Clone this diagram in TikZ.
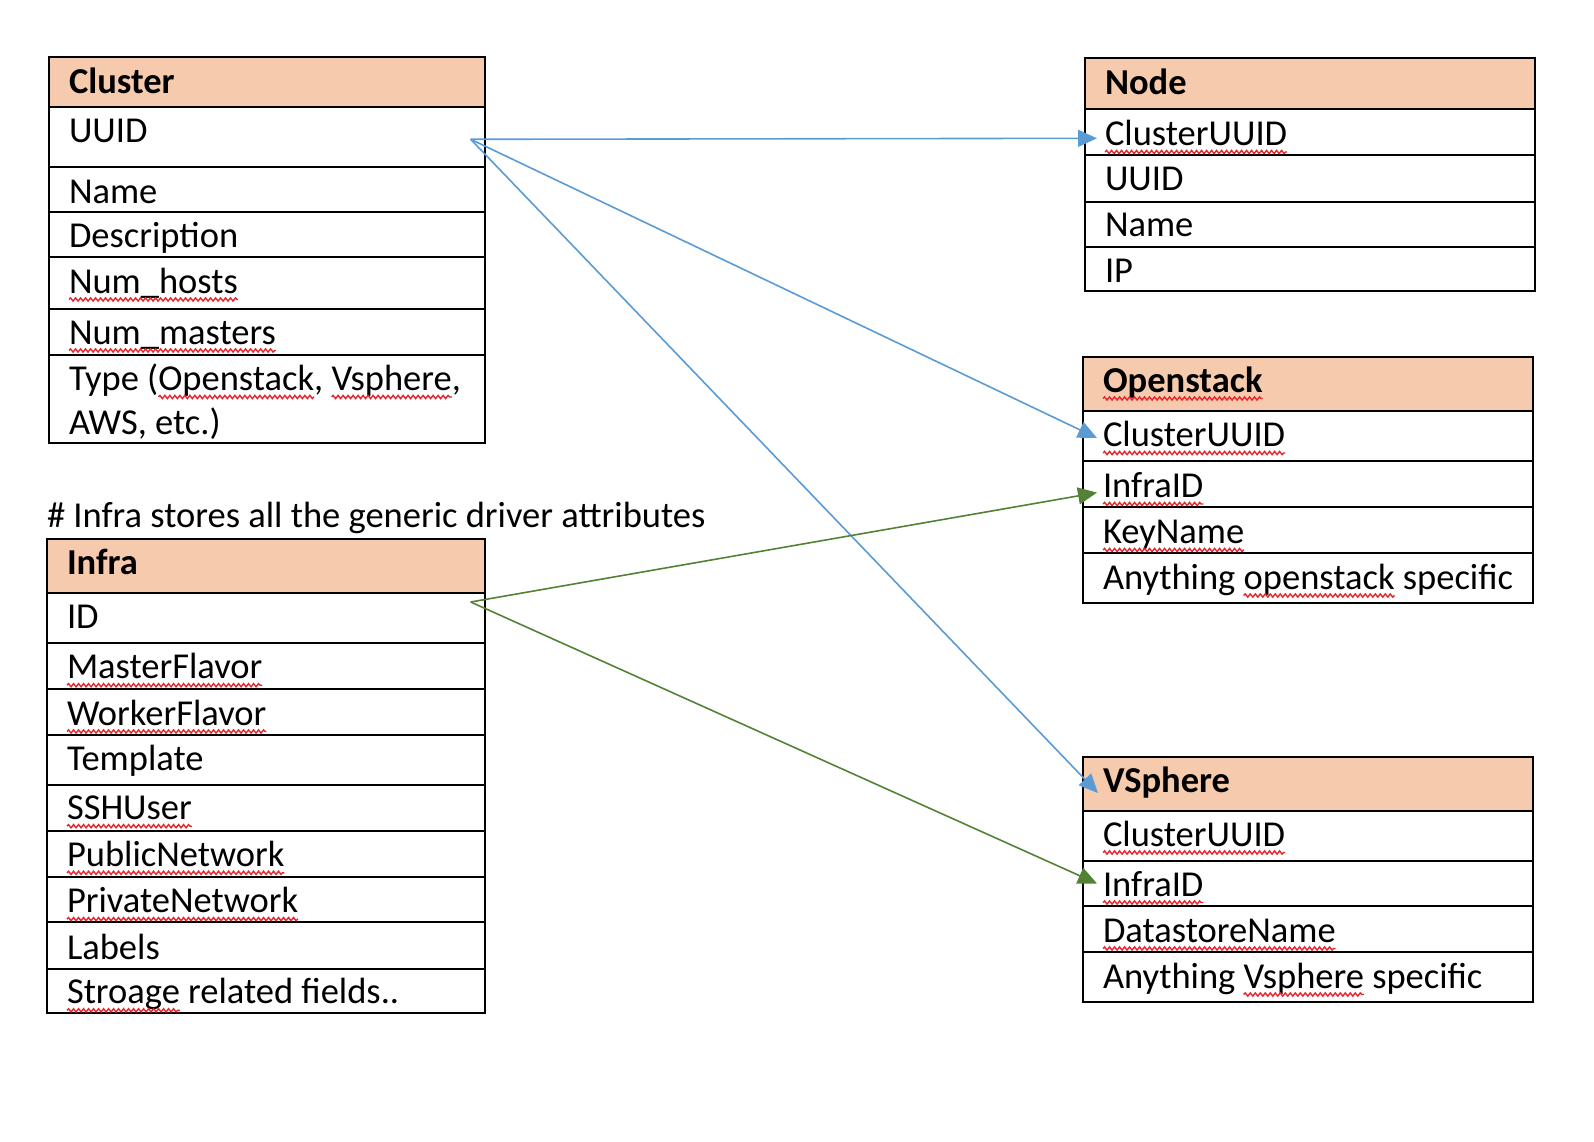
\documentclass[tikz,border=0pt]{standalone}
\usepackage{fontspec}
\setmainfont{Carlito}
\usetikzlibrary{arrows.meta,decorations.pathmorphing}
\definecolor{hdrfill}{HTML}{F6CAAC}
\definecolor{linkblue}{HTML}{5B9BD5}
\definecolor{linkgreen}{HTML}{548235}
\definecolor{spellred}{HTML}{E8242C}
\tikzset{
  tbl/.style={draw=black, line width=2pt},
  hdr/.style={fill=hdrfill},
  w/.style={anchor=base west, inner sep=0pt, outer sep=0pt, font=\fontsize{36.5}{44}\selectfont},
  wb/.style={w, font=\fontsize{36.5}{44}\selectfont\bfseries},
  squig/.style={draw=spellred, line width=1.4pt, decorate, decoration={snake, amplitude=1.6pt, segment length=5pt}},
  bluelink/.style={draw=linkblue, line width=1.6pt, -{Triangle[length=19pt,width=17pt]}},
  greenlink/.style={draw=linkgreen, line width=1.6pt, -{Triangle[length=19pt,width=17pt]}}
}
\newcommand\sqg[1]{\draw[squig] ([yshift=-6.5pt]#1.base west) -- ([yshift=-6.5pt]#1.base east);}
\newcommand\wsp{\ \null}
\begin{document}
\begin{tikzpicture}[x=1pt,y=-1pt]
\useasboundingbox (0,0) rectangle (1594,1142);

% ---------------- Cluster ----------------
\fill[hdr] (49,57) rectangle (485,107);
\draw[tbl] (49,57) rectangle (485,443);
\foreach \yy in {107,167,211.5,257,309,355} \draw[tbl] (49,\yy) -- (485,\yy);
\node[wb] (clT) at (69,93.5) {Cluster};
\node[w] (cl1) at (69,143) {UUID};
\node[w] (cl2) at (69,203.5) {Name};
\node[w] (cl3) at (69,247.5) {Description};
\node[w] (cl4) at (69,293) {Num\_hosts};
\node[w] (cl5) at (69,344) {Num\_masters};
\node[w] (cl6a) at (69,390.5) {Type (};
\node[w] (cl6b) at (cl6a.base east) {Openstack};
\node[w] (cl6c) at (cl6b.base east) {,\wsp};
\node[w] (cl6d) at (cl6c.base east) {Vsphere};
\node[w] (cl6e) at (cl6d.base east) {,};
\node[w] (cl7) at (69,434) {AWS, etc.)};
\sqg{cl4}\sqg{cl5}\sqg{cl6b}\sqg{cl6d}

% ---------------- Node ----------------
\fill[hdr] (1085,58.5) rectangle (1535,109);
\draw[tbl] (1085,58.5) rectangle (1535,291);
\foreach \yy in {109,155,201.5,247} \draw[tbl] (1085,\yy) -- (1535,\yy);
\node[wb] (ndT) at (1105,95) {Node};
\node[w] (nd1) at (1105,145.5) {ClusterUUID};
\node[w] (nd2) at (1105,190.5) {UUID};
\node[w] (nd3) at (1105,236.5) {Name};
\node[w] (nd4) at (1105,282) {IP};
\sqg{nd1}

% ---------------- Openstack ----------------
\fill[hdr] (1083,357) rectangle (1533,411);
\draw[tbl] (1083,357) rectangle (1533,603);
\foreach \yy in {411,461,507,553} \draw[tbl] (1083,\yy) -- (1533,\yy);
\node[wb] (osT) at (1103,392) {Openstack};
\node[w] (os1) at (1103,446.5) {ClusterUUID};
\node[w] (os2) at (1103,497.5) {InfraID};
\node[w] (os3) at (1103,543.5) {KeyName};
\node[w] (os4a) at (1103,589) {Anything\wsp};
\node[w] (os4b) at (os4a.base east) {openstack};
\node[w] (os4c) at (os4b.base east) {\wsp specific};
\sqg{osT}\sqg{os1}\sqg{os2}\sqg{os3}\sqg{os4b}

% ---------------- VSphere ----------------
\fill[hdr] (1083,756.7) rectangle (1533,810.5);
\draw[tbl] (1083,756.7) rectangle (1533,1002.4);
\foreach \yy in {810.5,860.5,906.3,952} \draw[tbl] (1083,\yy) -- (1533,\yy);
\node[wb] (vsT) at (1103,792) {VSphere};
\node[w] (vs1) at (1103,846) {ClusterUUID};
\node[w] (vs2) at (1103,896) {InfraID};
\node[w] (vs3) at (1103,942) {DatastoreName};
\node[w] (vs4a) at (1103,988) {Anything\wsp};
\node[w] (vs4b) at (vs4a.base east) {Vsphere};
\node[w] (vs4c) at (vs4b.base east) {\wsp specific};
\sqg{vs1}\sqg{vs2}\sqg{vs3}\sqg{vs4b}

% ---------------- Infra ----------------
\node[w] (note) at (47,527.5) {\# Infra stores all the generic driver attributes};
\fill[hdr] (47,539) rectangle (485,592.5);
\draw[tbl] (47,539) rectangle (485,1013);
\foreach \yy in {592.5,642.6,688.5,734.5,784.5,830.5,876.5,922.4,968.5} \draw[tbl] (47,\yy) -- (485,\yy);
\node[wb] (inT) at (67,574.5) {Infra};
\node[w] (in1) at (67,628.8) {ID};
\node[w] (in2) at (67,678.7) {MasterFlavor};
\node[w] (in3) at (67,725) {WorkerFlavor};
\node[w] (in4) at (67,770.7) {Template};
\node[w] (in5) at (67,819.7) {SSHUser};
\node[w] (in6) at (67,866.3) {PublicNetwork};
\node[w] (in7) at (67,912.6) {PrivateNetwork};
\node[w] (in8) at (67,959) {Labels};
\node[w] (in9a) at (67,1003.8) {Stroage};
\node[w] (in9b) at (in9a.base east) {\wsp related fields..};
\sqg{in2}\sqg{in3}\sqg{in5}\sqg{in6}\sqg{in7}\sqg{in9a}

% ---------------- Connectors ----------------
\coordinate (cuuid) at (470.7,139.3);
\coordinate (iid) at (470.7,602);
\coordinate (tipNode) at (1097,138.3);
\coordinate (tipOsCU) at (1097,438);
\coordinate (tipVs) at (1098,793);
\coordinate (tipOsIn) at (1097,492.6);
\coordinate (tipVsIn) at (1097,883.5);
\draw[bluelink] (cuuid) -- (tipNode);
\draw[bluelink] (cuuid) -- (tipOsCU);
\draw[bluelink] (cuuid) -- (tipVs);
\draw[greenlink] (iid) -- (tipOsIn);
\draw[greenlink] (iid) -- (tipVsIn);
\end{tikzpicture}
\end{document}
